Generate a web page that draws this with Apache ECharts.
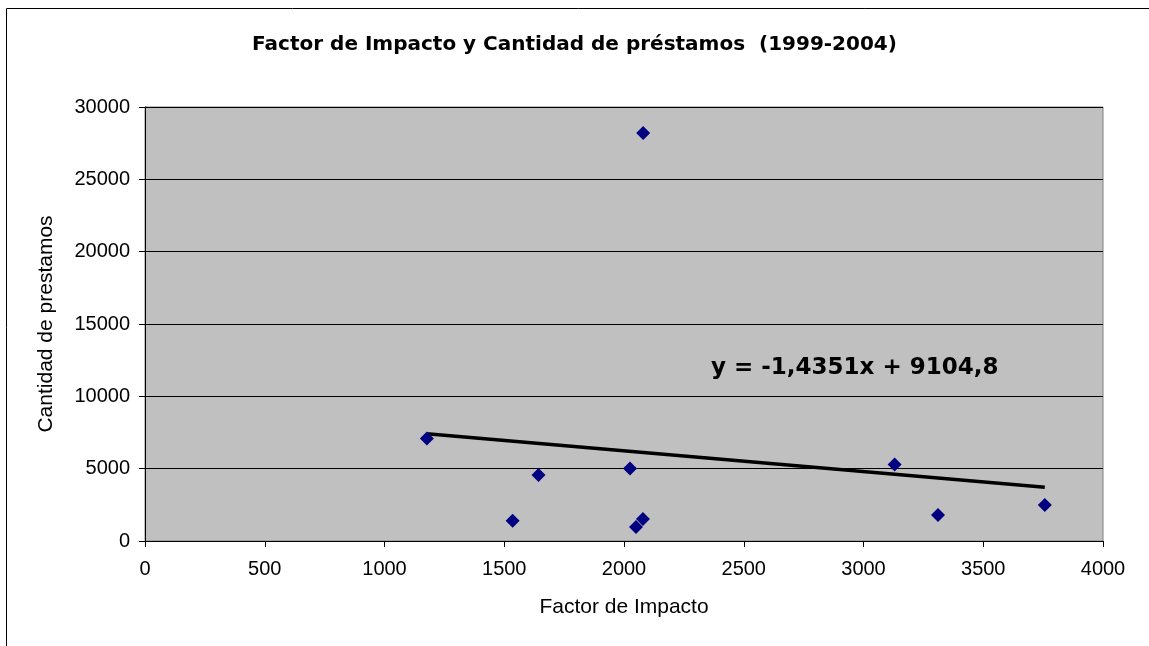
<!DOCTYPE html>
<html>
<head>
<meta charset="utf-8">
<script src="https://cdn.jsdelivr.net/npm/echarts@6/dist/echarts.min.js"></script>
<style>
  html, body { margin: 0; padding: 0; background: #fff; }
  #chart { width: 1149px; height: 646px; }
</style>
</head>
<body>
<div id="chart"></div>
<script>
// puntos
var factorImpacto = [1177, 1535, 1643, 2025, 2080, 2050, 2079, 3130, 3311, 3757];
var prestamos = [7080, 1400, 4560, 5010, 28200, 970, 1520, 5280, 1800, 2490];
// linea de tendencia (ecuacion mostrada)
var pendiente = -1.4351;
var intercepto = 9104.8;
var xTicks = [0, 4000, 500];
var yTicks = [0, 30000, 5000];

var puntos = factorImpacto.map(function (x, i) { return [x, prestamos[i]]; });
var xMin = Math.min.apply(null, factorImpacto);
var xMax = Math.max.apply(null, factorImpacto);
var tendencia = [
  [xMin, pendiente * xMin + intercepto],
  [xMax, pendiente * xMax + intercepto]
];

function sinComas(v) {
  return String(v);
}

var chart = echarts.init(document.getElementById('chart'));
chart.setOption({
  animation: false,
  backgroundColor: '#fff',
  title: {
    text: 'Factor de Impacto y Cantidad de préstamos  (1999-2004)',
    left: 'center',
    top: 30,
    textStyle: { fontFamily: 'DejaVu Sans', fontWeight: 'bold', fontSize: 20, color: '#000' }
  },
  graphic: [{
    type: 'rect',
    shape: { x: 6.5, y: 8.5, width: 1300, height: 800 },
    style: { fill: 'none', stroke: '#000', lineWidth: 1 },
    silent: true
  }, {
    type: 'text',
    left: 711,
    top: 357,
    style: { text: 'y = -1,4351x + 9104,8', font: 'bold 23px "DejaVu Sans"', fill: '#000' }
  }],
  grid: {
    left: 145, right: 46, top: 107, bottom: 105,
    show: true,
    backgroundColor: '#c0c0c0',
    borderColor: '#808080',
    borderWidth: 1
  },
  xAxis: {
    type: 'value',
    min: xTicks[0], max: xTicks[1], interval: xTicks[2],
    name: 'Factor de Impacto',
    nameLocation: 'middle',
    nameGap: 56,
    nameTextStyle: { fontFamily: 'Liberation Sans', fontSize: 21, color: '#000' },
    axisLine: { show: true, lineStyle: { color: '#000' } },
    axisTick: { show: true, length: 6, lineStyle: { color: '#000' } },
    axisLabel: { fontFamily: 'Liberation Sans', fontSize: 20, color: '#000', margin: 18, formatter: sinComas },
    splitLine: { show: false }
  },
  yAxis: {
    type: 'value',
    min: yTicks[0], max: yTicks[1], interval: yTicks[2],
    name: 'Cantidad de prestamos',
    nameLocation: 'middle',
    nameGap: 88,
    nameTextStyle: { fontFamily: 'Liberation Sans', fontSize: 21, color: '#000' },
    axisLine: { show: true, lineStyle: { color: '#000' } },
    axisTick: { show: true, length: 6, lineStyle: { color: '#000' } },
    axisLabel: { fontFamily: 'Liberation Sans', fontSize: 20, color: '#000', margin: 15, formatter: sinComas },
    splitLine: { show: true, lineStyle: { color: '#000', width: 1 } }
  },
  series: [{
    type: 'scatter',
    data: puntos,
    symbol: 'diamond',
    symbolSize: [14, 14],
    itemStyle: { color: '#000080', opacity: 1 },
    z: 3
  }, {
    type: 'line',
    data: tendencia,
    symbol: 'none',
    lineStyle: { color: '#000', width: 3.5 },
    z: 2
  }]
});
</script>
</body>
</html>
